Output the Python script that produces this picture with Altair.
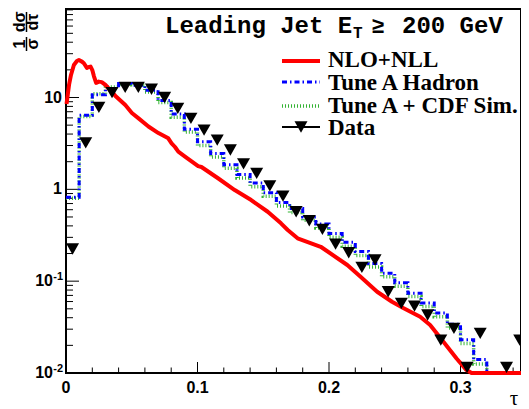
import altair as alt
import pandas as pd

# ---------------- data ----------------
# Data points (bin centres) and values
data_tau = [0.005, 0.015, 0.025, 0.035, 0.045, 0.055, 0.065, 0.075, 0.085, 0.095,
            0.105, 0.115, 0.125, 0.135, 0.145, 0.155, 0.165, 0.175, 0.185, 0.195,
            0.205, 0.215, 0.225, 0.235, 0.245, 0.255, 0.265, 0.275, 0.285, 0.295,
            0.305, 0.315, 0.335, 0.345]
data_val = [0.224, 3.2, 7.8, 11.3, 12.9, 12.9, 12.3, 10.0, 7.6, 5.93,
            4.42, 3.44, 2.68, 1.89, 1.49, 1.09, 0.845, 0.570, 0.455, 0.366,
            0.253, 0.204, 0.141, 0.170, 0.0767, 0.0573, 0.0535, 0.0428, 0.0228, 0.0306,
            0.0115, 0.027, 0.0115, 0.0228]

# NLO+NLL curve
nll_tau = [0.0004, 0.0023, 0.0038, 0.006, 0.0083, 0.0098, 0.0121, 0.0136, 0.0159, 0.0174,
           0.0187, 0.0200, 0.0212, 0.0229, 0.0249, 0.0272, 0.0300, 0.0376, 0.0451, 0.0501,
           0.0552, 0.0627, 0.0703, 0.0778, 0.0803, 0.0829, 0.0854, 0.0905, 0.1005, 0.1030,
           0.1156, 0.1283, 0.1408, 0.1534, 0.1635, 0.1686, 0.1761, 0.1937, 0.2139, 0.2240,
           0.2366, 0.2479, 0.2568, 0.2693, 0.2769, 0.2870, 0.2970, 0.3046, 0.3084, 0.3460]
nll_val = [8.5, 13.7, 17.6, 22.6, 25.0, 25.6, 24.6, 23.6, 21.0, 21.5,
           21.7, 19.9, 17.1, 14.4, 14.9, 14.7, 13.7, 10.4, 8.28, 6.78,
           5.93, 4.83, 4.10, 3.59, 3.17, 2.89, 2.57, 2.27, 1.79, 1.75,
           1.32, 0.983, 0.764, 0.570, 0.426, 0.361, 0.293, 0.237, 0.150, 0.112,
           0.0767, 0.0597, 0.0506, 0.0410, 0.0333, 0.0219, 0.0144, 0.01076, 0.0100, 0.0100]

# Histograms: bins of width 0.01 from 0.00 to 0.32
bin_edges = [round(0.01 * i, 2) for i in range(33)] + [0.346]
hadron_val = [0.82, 6.4, 10.7, 12.5, 14.2, 13.6, 12.0, 9.3, 6.6, 4.5,
              3.3, 2.45, 1.85, 1.45, 1.17, 0.92, 0.72, 0.62, 0.50, 0.42,
              0.33, 0.265, 0.21, 0.156, 0.122, 0.096, 0.074, 0.058, 0.045, 0.034,
              0.023, 0.014]
cdfsim_val = [0.80, 6.2, 11.0, 13.0, 14.0, 13.8, 11.5, 8.8, 6.1, 4.2,
              3.0, 2.25, 1.7, 1.33, 1.07, 0.84, 0.66, 0.56, 0.46, 0.38,
              0.30, 0.24, 0.19, 0.143, 0.112, 0.088, 0.068, 0.053, 0.041, 0.031,
              0.021, 0.0125]
EMPTY = 0.001  # empty bins (below the axis)

legend_labels = ["NLO+NLL", "Tune A Hadron", "Tune A + CDF Sim.", "Data"]

x_major = [0.0, 0.1, 0.2, 0.3]
x_major_labels = ["0", "0.1", "0.2", "0.3"]
x_minor = [0.02, 0.04, 0.06, 0.08, 0.12, 0.14, 0.16, 0.18, 0.22, 0.24, 0.26, 0.28,
           0.32, 0.34]
y_major = [0.01, 0.1, 1, 10]
y_base = ["10", "10", "1", "10"]
y_sup = ["-2", "-1", "", ""]
y_minor = [m * d for d in (0.01, 0.1, 1, 10) for m in range(2, 10)]

# ---------------- chart ----------------
W, H = 455, 364
xs = alt.Scale(domain=[0, 0.346], nice=False, zero=False)
ys = alt.Scale(type="log", domain=[0.01, 92], nice=False)


def X(f="tau"):
    return alt.X(f"{f}:Q", scale=xs, axis=None)


def Y(f="v"):
    return alt.Y(f"{f}:Q", scale=ys, axis=None)


def hist_df(vals):
    v = list(vals) + [EMPTY, EMPTY]
    return pd.DataFrame({"tau": bin_edges, "v": v})


layers = []

# tick marks (inside)
layers.append(alt.Chart(pd.DataFrame({"tau": x_major})).mark_rule(color="black", strokeWidth=1)
              .encode(x=X(), y=alt.value(H), y2=alt.value(H - 11)))
layers.append(alt.Chart(pd.DataFrame({"tau": x_minor})).mark_rule(color="black", strokeWidth=1)
              .encode(x=X(), y=alt.value(H), y2=alt.value(H - 5.5)))
layers.append(alt.Chart(pd.DataFrame({"v": y_major})).mark_rule(color="black", strokeWidth=1)
              .encode(y=Y(), x=alt.value(0), x2=alt.value(13)))
layers.append(alt.Chart(pd.DataFrame({"v": y_minor})).mark_rule(color="black", strokeWidth=1)
              .encode(y=Y(), x=alt.value(0), x2=alt.value(7)))

# histograms
layers.append(alt.Chart(hist_df(cdfsim_val)).mark_line(
    interpolate="step-after", color="#33b333", strokeWidth=3.5, strokeDash=[1, 2], clip=True)
    .encode(x=X(), y=Y()))
layers.append(alt.Chart(hist_df(hadron_val)).mark_line(
    interpolate="step-after", color="#0000ff", strokeWidth=3, strokeDash=[5, 3, 1.5, 3], clip=True)
    .encode(x=X(), y=Y()))

# NLO+NLL
layers.append(alt.Chart(pd.DataFrame({"tau": nll_tau, "v": nll_val})).mark_line(
    color="#ff0000", strokeWidth=4, strokeJoin="round")
    .encode(x=X(), y=Y()))

# Data triangles (centred on bounding box)
TRI = "M-1,-0.87L1,-0.87L0,0.87Z"
layers.append(alt.Chart(pd.DataFrame({"tau": data_tau, "v": data_val})).mark_point(
    shape=TRI, filled=True, color="black", opacity=1, size=169)
    .encode(x=X(), y=Y()))

# axis labels
layers.append(alt.Chart(pd.DataFrame({"tau": x_major, "lab": x_major_labels})).mark_text(
    align="center", baseline="top", font="Liberation Sans", fontWeight="bold", fontSize=16,
    color="black").encode(x=X(), y=alt.value(H + 7), text="lab:N"))

ylab = pd.DataFrame({"v": y_major, "base": y_base, "sup": y_sup})
layers.append(alt.Chart(ylab).transform_filter("datum.sup == ''").mark_text(
    align="right", baseline="middle", font="Liberation Sans", fontWeight="bold", fontSize=16,
    color="black").encode(y=Y(), x=alt.value(-4), text="base:N"))
layers.append(alt.Chart(ylab).transform_filter("datum.sup != ''").mark_text(
    align="right", baseline="middle", font="Liberation Sans", fontWeight="bold", fontSize=16,
    color="black").encode(y=Y(), x=alt.value(-13), text="base:N"))
layers.append(alt.Chart(ylab).transform_filter("datum.sup != ''").mark_text(
    align="right", baseline="middle", font="Liberation Sans", fontWeight="bold", fontSize=11,
    dy=-4, color="black").encode(y=Y(), x=alt.value(-3), text="sup:N"))

# axis titles
one = pd.DataFrame({"t": ["1", "σ", "dσ", "dτ", "τ"]})
ttl = dict(font="Liberation Sans", fontWeight="bold", fontSize=16, color="black",
           angle=270, align="center", baseline="middle")
for txt, px, py in [("1", -46, 35), ("σ", -33, 35), ("dσ", -46, 13), ("dτ", -33, 13)]:
    layers.append(alt.Chart(one).transform_filter(alt.datum.t == txt).mark_text(**ttl)
                  .encode(x=alt.value(px), y=alt.value(py), text="t:N"))
for y1, y2 in [(28, 42), (3, 23)]:
    layers.append(alt.Chart(one).transform_filter(alt.datum.t == "1").mark_rule(
        color="black", strokeWidth=1.5).encode(x=alt.value(-39.5), y=alt.value(y1), y2=alt.value(y2)))
layers.append(alt.Chart(one).transform_filter(alt.datum.t == "τ").mark_text(
    font="Liberation Serif", fontSize=21, color="black", align="center", baseline="middle")
    .encode(x=alt.value(448), y=alt.value(390), text="t:N"))

# header text
hdr = pd.DataFrame({"t": ["Leading Jet E", "T", "≥", "200 GeV"]})
mono = dict(font="Liberation Mono", fontWeight="bold", color="black", baseline="alphabetic")
for txt, px, py, fs, al in [("Leading Jet E", 99, 24, 24, "left"), ("T", 287, 29, 16, "left"),
                            ("≥", 312, 24, 22, "center"), ("200 GeV", 336, 24, 24, "left")]:
    layers.append(alt.Chart(hdr).transform_filter(alt.datum.t == txt).mark_text(
        fontSize=fs, align=al, **mono).encode(x=alt.value(px), y=alt.value(py), text="t:N"))

# legend
leg = pd.DataFrame({"label": legend_labels})
layers.append(alt.Chart(leg).transform_filter(alt.datum.label == "NLO+NLL").mark_rule(
    color="#ff0000", strokeWidth=4).encode(x=alt.value(216), x2=alt.value(254), y=alt.value(52)))
layers.append(alt.Chart(leg).transform_filter(alt.datum.label == "Tune A Hadron").mark_rule(
    color="#0000ff", strokeWidth=3, strokeDash=[5, 3, 1.5, 3]).encode(
    x=alt.value(216), x2=alt.value(254), y=alt.value(73)))
layers.append(alt.Chart(leg).transform_filter(alt.datum.label == "Tune A + CDF Sim.").mark_rule(
    color="#33b333", strokeWidth=3.5, strokeDash=[1, 2]).encode(
    x=alt.value(216), x2=alt.value(254), y=alt.value(97)))
layers.append(alt.Chart(leg).transform_filter(alt.datum.label == "Data").mark_rule(
    color="black", strokeWidth=2).encode(x=alt.value(216), x2=alt.value(254), y=alt.value(118)))
layers.append(alt.Chart(leg).transform_filter(alt.datum.label == "Data").mark_point(
    shape=TRI, filled=True, color="black", opacity=1, size=169).encode(
    x=alt.value(235), y=alt.value(118)))
for lab, py in zip(legend_labels, [58, 81, 104, 126]):
    layers.append(alt.Chart(leg).transform_filter(alt.datum.label == lab).mark_text(
        align="left", baseline="alphabetic", font="Liberation Serif", fontWeight="bold",
        fontSize=23, color="black").encode(x=alt.value(262), y=alt.value(py), text="label:N"))

chart = alt.layer(*layers).properties(
    width=W, height=H,
    autosize=alt.AutoSizeParams(type="none"),
    padding={"left": 58, "top": 1, "right": 0, "bottom": 39},
    background="white",
).configure_view(stroke="black", strokeWidth=2)

chart.save("out.html", embed_options={"renderer": "svg", "actions": False})
